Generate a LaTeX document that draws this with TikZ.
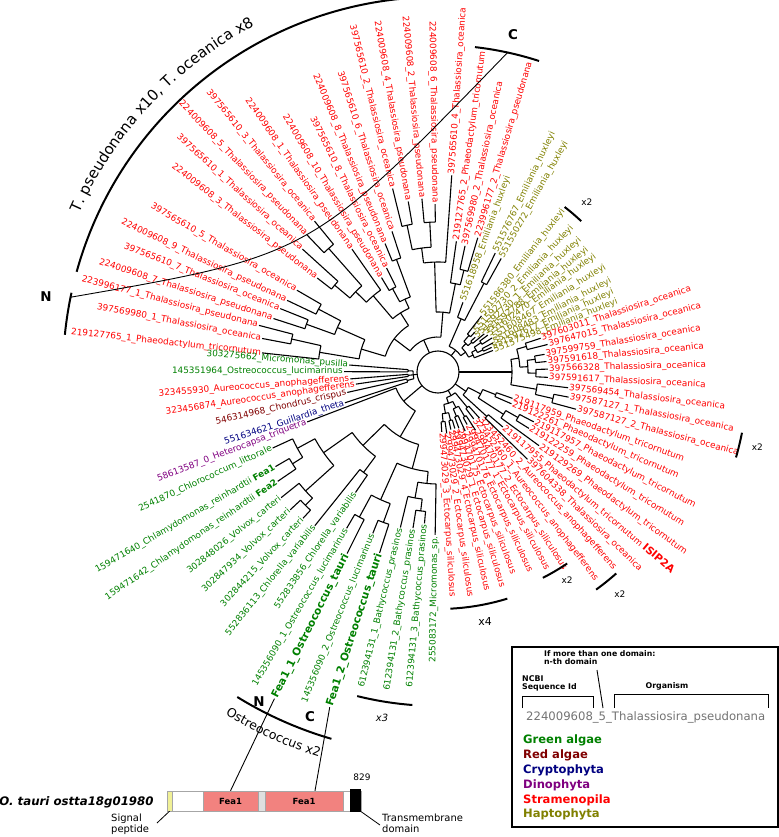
\documentclass[tikz,border=0pt]{standalone}
\usepackage{fontspec}
\setmainfont{DejaVu Sans}
\usetikzlibrary{decorations.text}
\newcommand{\lblfont}{\fontsize{8.9}{10}\selectfont}
\newcommand{\brarc}[3]{\draw[branch] (#2:#1) arc[start angle=#2,end angle=#3,radius=#1];}
\newcommand{\brstem}[3]{\draw[branch] (#1:#2) -- (#1:#3);}

\begin{document}
\begin{tikzpicture}[x=1bp,y=1bp,
    branch/.style={line width=1.1pt},
    brace/.style={line width=2pt},
    lblR/.style={anchor=west,inner sep=1pt,font=\lblfont},
    lblL/.style={anchor=east,inner sep=1pt,font=\lblfont}]
    \definecolor{grn}{RGB}{0,128,0}
    \definecolor{redalg}{RGB}{128,0,0}
    \definecolor{crypt}{RGB}{0,0,128}
    \definecolor{dino}{RGB}{128,0,128}
    \definecolor{stram}{RGB}{255,0,0}
    \definecolor{hapt}{RGB}{128,128,0}
    \definecolor{feabox}{RGB}{242,130,127}
    \definecolor{sigpep}{RGB}{240,240,150}
    \useasboundingbox (-438,-465) rectangle (341,372);
    \coordinate (root) at (0,0);
    \draw[branch] (root) circle[radius=21];

    % leaves: Thalassiosira block (top left)
    \node[lblL,stram,rotate=-6.2] (a1) at (173.8:177) {219127765\_1\_Phaeodactylum\_tricornutum};
    \node[lblL,stram,rotate=-10.8] (a2) at (169.2:179) {397569980\_1\_Thalassiosira\_oceanica};
    \node[lblL,stram,rotate=-14.6] (a3) at (165.4:185) {223996177\_1\_Thalassiosira\_pseudonana};
    \node[lblL,stram,rotate=-18] (a4) at (162:173) {224009608\_7\_Thalassiosira\_pseudonana};
    \node[lblL,stram,rotate=-21.9] (a5) at (158.1:170) {397565610\_7\_Thalassiosira\_oceanica};
    \node[lblL,stram,rotate=-25.4] (a6) at (154.6:167) {224009608\_9\_Thalassiosira\_pseudonana};
    \node[lblL,stram,rotate=-30.1] (a7) at (149.9:163) {397565610\_5\_Thalassiosira\_oceanica};
    \node[lblL,stram,rotate=-37.9] (a8) at (142.1:153) {224009608\_3\_Thalassiosira\_pseudonana};
    \node[lblL,stram,rotate=-42.2] (a9) at (137.8:183) {397565610\_1\_Thalassiosira\_oceanica};
    \node[lblL,stram,rotate=-46.3] (a10) at (133.7:190) {224009608\_5\_Thalassiosira\_pseudonana};
    \node[lblL,stram,rotate=-50.7] (a11) at (129.3:195) {397565610\_3\_Thalassiosira\_oceanica};
    \node[lblL,stram,rotate=-55] (a12) at (125:150) {224009608\_1\_Thalassiosira\_pseudonana};
    \node[lblL,stram,rotate=-59.1] (a13) at (120.9:110) {224009608\_10\_Thalassiosira\_pseudonana};
    \node[lblL,stram,rotate=-63.7] (a14) at (116.3:116) {397565610\_8\_Thalassiosira\_oceanica};
    \node[lblL,stram,rotate=-67.6] (a15) at (112.4:139) {224009608\_8\_Thalassiosira\_pseudonana};
    \node[lblL,stram,rotate=-71.9] (a16) at (108.1:148) {397565610\_6\_Thalassiosira\_oceanica};
    \node[lblL,stram,rotate=-76.1] (a17) at (103.9:189) {397565610\_2\_Thalassiosira\_oceanica};
    \node[lblL,stram,rotate=-80.1] (a18) at (99.9:173) {224009608\_4\_Thalassiosira\_pseudonana};
    \node[lblL,stram,rotate=-84.7] (a19) at (95.3:174) {224009608\_2\_Thalassiosira\_pseudonana};
    \node[lblL,stram,rotate=-89] (a20) at (91:168) {224009608\_6\_Thalassiosira\_pseudonana};
    \node[lblR,stram,rotate=86] (a21) at (86:197) {397565610\_4\_Thalassiosira\_oceanica};
    \node[lblR,stram,rotate=82] (a22) at (82:132) {219127765\_2\_Phaeodactylum\_tricornutum};
    \node[lblR,stram,rotate=77.9] (a23) at (77.9:129) {397569980\_2\_Thalassiosira\_oceanica};
    \node[lblR,stram,rotate=73.5] (a24) at (73.5:140) {223996177\_2\_Thalassiosira\_pseudonana};

    % leaves: Emiliania
    \node[lblR,hapt,rotate=70.3] (e1) at (70.3:74) {551618958\_Emiliania\_huxleyi};
    \node[lblR,hapt,rotate=64.3] (e2) at (64.3:132) {551576767\_Emiliania\_huxleyi};
    \node[lblR,hapt,rotate=60.9] (e3) at (60.9:130) {551550272\_Emiliania\_huxleyi};
    \node[lblR,hapt,rotate=52.2] (e4) at (52.2:71) {551586380\_Emiliania\_huxleyi};
    \node[lblR,hapt,rotate=47.3] (e5) at (47.3:54) {551592730\_2\_Emiliania\_huxleyi};
    \node[lblR,hapt,rotate=43.1] (e6) at (43.1:51) {551592730\_1\_Emiliania\_huxleyi};
    \node[lblR,hapt,rotate=39.5] (e7) at (39.5:60) {551592788\_Emiliania\_huxleyi};
    \node[lblR,hapt,rotate=36.5] (e8) at (36.5:62) {551602470\_Emiliania\_huxleyi};
    \node[lblR,hapt,rotate=32.2] (e9) at (32.2:64) {551608467\_Emiliania\_huxleyi};
    \node[lblR,hapt,rotate=27.9] (e10) at (27.9:62) {551608483\_Emiliania\_huxleyi};
    \node[lblR,hapt,rotate=24.6] (e11) at (24.6:59) {551592617\_Emiliania\_huxleyi};
    \node[lblR,hapt,rotate=21.4] (e12) at (21.4:59) {551575498\_Emiliania\_huxleyi};

    % leaves: T. oceanica (right)
    \node[lblR,stram,rotate=18.2] (d1) at (18.2:108) {397603011\_Thalassiosira\_oceanica};
    \node[lblR,stram,rotate=14.1] (d2) at (14.1:113) {397647015\_Thalassiosira\_oceanica};
    \node[lblR,stram,rotate=9.4] (d3) at (9.4:108) {397599759\_Thalassiosira\_oceanica};
    \node[lblR,stram,rotate=5.5] (d4) at (5.5:109) {397591618\_Thalassiosira\_oceanica};
    \node[lblR,stram,rotate=1.5] (d5) at (1.5:110) {397566328\_Thalassiosira\_oceanica};
    \node[lblR,stram,rotate=-2.8] (d6) at (-2.8:110) {397591617\_Thalassiosira\_oceanica};
    \node[lblR,stram,rotate=-6.9] (d7) at (-6.9:131) {397569454\_Thalassiosira\_oceanica};
    \node[lblR,stram,rotate=-10.9] (d8) at (-10.9:133) {397587127\_1\_Thalassiosira\_oceanica};
    \node[lblR,stram,rotate=-15.1] (d9) at (-15.1:143) {397587127\_2\_Thalassiosira\_oceanica};

    % leaves: Phaeodactylum, Aureococcus, Ectocarpus
    \node[lblR,stram,rotate=-19.5] (p1) at (-19.5:79) {219117959\_Phaeodactylum\_tricornutum};
    \node[lblR,stram,rotate=-23.4] (p2) at (-23.4:80) {219122261\_Phaeodactylum\_tricornutum};
    \node[lblR,stram,rotate=-27.5] (p3) at (-27.5:108) {219117957\_Phaeodactylum\_tricornutum};
    \node[lblR,stram,rotate=-31.8] (p4) at (-31.8:107) {219122259\_Phaeodactylum\_tricornutum};
    \node[lblR,stram,rotate=-36.1] (p5) at (-36.1:125) {219129269\_Phaeodactylum\_tricornutum};
    \node[lblR,stram,rotate=-40.3] (p6) at (-40.3:85) {219117955\_Phaeodactylum\_tricornutum {\fontsize{10.5}{11}\bfseries ISIP2A}};
    \node[lblR,stram,rotate=-44.3] (t1) at (-44.3:125) {397604338\_Thalassiosira\_oceanica};
    \node[lblR,stram,rotate=-48] (au1) at (-48:62) {323452460\_2\_Aureococcus\_anophagefferens};
    \node[lblR,stram,rotate=-52.7] (au2) at (-52.7:59) {323452460\_1\_Aureococcus\_anophagefferens};
    \node[lblR,stram,rotate=-57.2] (ec1) at (-57.2:69) {299470177\_2\_Ectocarpus\_siliculosus};
    \node[lblR,stram,rotate=-61] (ec2) at (-61:60) {299470177\_1\_Ectocarpus\_siliculosus};
    \node[lblR,stram,rotate=-65.3] (ec3) at (-65.3:65) {299470176\_Ectocarpus\_siliculosus};
    \node[lblR,stram,rotate=-69.6] (ec4) at (-69.6:60) {299470175\_Ectocarpus\_siliculosus};
    \node[lblR,stram,rotate=-73.4] (ec5) at (-73.4:59) {299473029\_1\_Ectocarpus\_siliculosus};
    \node[lblR,stram,rotate=-77.4] (ec6) at (-77.4:59) {299473029\_4\_Ectocarpus\_siliculosus};
    \node[lblR,stram,rotate=-81.9] (ec7) at (-81.9:62) {299473029\_2\_Ectocarpus\_siliculosus};
    \node[lblR,stram,rotate=-86.4] (ec8) at (-86.4:60) {299473029\_3\_Ectocarpus\_siliculosus};

    % leaves: green algae and others (left, bottom)
    \node[lblL,grn,rotate=-4.5] (g1) at (175.5:89) {303275662\_Micromonas\_pusilla};
    \node[lblL,grn,rotate=-0.2] (g2) at (179.8:94) {145351964\_Ostreococcus\_lucimarinus};
    \node[lblL,stram,rotate=4.5] (g3) at (184.5:88) {323455930\_Aureococcus\_anophagefferens};
    \node[lblL,stram,rotate=8.4] (g4) at (188.4:83) {323456874\_Aureococcus\_anophagefferens};
    \node[lblL,redalg,rotate=12.7] (g5) at (192.7:93) {546314968\_Chondrus\_crispus};
    \node[lblL,crypt,rotate=18.3] (g6) at (198.3:98) {551634621\_Guillardia\_theta};
    \node[lblL,dino,rotate=20.9] (g7) at (200.9:140) {58613587\_0\_Heterocapsa\_triquetra};
    \node[lblL,grn,rotate=24.7] (g8) at (204.7:182) {2541870\_Chlorococcum\_littorale};
    \node[lblL,grn,rotate=30.2] (g9) at (210.2:188) {159471640\_Chlamydomonas\_reinhardtii \textbf{Fea1}};
    \node[lblL,grn,rotate=34.3] (g10) at (214.3:194) {159471642\_Chlamydomonas\_reinhardtii \textbf{Fea2}};
    \node[lblL,grn,rotate=38.7] (g11) at (218.7:201) {302848026\_Volvox\_carteri};
    \node[lblL,grn,rotate=43] (g12) at (223:202) {302847934\_Volvox\_carteri};
    \node[lblL,grn,rotate=47.3] (g13) at (227.3:199) {302844215\_Volvox\_carteri};
    \node[lblL,grn,rotate=51.3] (g14) at (231.3:197) {552836113\_Chlorella\_variabilis};
    \node[lblL,grn,rotate=55.6] (g15) at (235.6:146) {552833856\_Chlorella\_variabilis};
    \node[lblL,grn,rotate=59.7] (g16) at (239.7:181) {145356090\_1\_Ostreococcus\_lucimarinus};
    \node[lblL,grn,rotate=63.4,font=\bfseries\fontsize{10.6}{12}\selectfont] (g17) at (243.4:203) {Fea1\_1\_Ostreococcus\_tauri};
    \node[lblL,grn,rotate=68] (g18) at (248:174) {145356090\_2\_Ostreococcus\_lucimarinus};
    \node[lblL,grn,rotate=72.1,font=\bfseries\fontsize{10.6}{12}\selectfont] (g19) at (252.1:190) {Fea1\_2\_Ostreococcus\_tauri};
    \node[lblL,grn,rotate=76.4] (g20) at (256.4:160) {612394131\_1\_Bathycoccus\_prasinos};
    \node[lblL,grn,rotate=80.9] (g21) at (260.9:158) {612394131\_2\_Bathycoccus\_prasinos};
    \node[lblL,grn,rotate=84.9] (g22) at (264.9:152) {612394131\_3\_Bathycoccus\_prasinos};
    \node[lblL,grn,rotate=89] (g23) at (269:163) {255083172\_Micromonas\_sp.};

    % tree: Thalassiosira block
    \brarc{150}{165.4}{169.2}
    \brarc{120}{167.3}{173.8} \brstem{167.3}{120}{150}
    \brarc{140}{158.1}{162}
    \brarc{135}{149.9}{154.6}
    \brarc{110}{152.25}{160.05} \brstem{160.05}{110}{140} \brstem{152.25}{110}{135}
    \brarc{80}{156.15}{170.55} \brstem{156.15}{80}{110} \brstem{170.55}{80}{120}
    \brarc{135}{137.8}{142.1}
    \brarc{165}{129.3}{133.7}
    \brarc{115}{131.5}{139.95} \brstem{139.95}{115}{135} \brstem{131.5}{115}{165}
    \brarc{100}{125}{135.73} \brstem{135.73}{100}{115}
    \brarc{95}{116.3}{120.9}
    \brarc{120}{108.1}{112.4}
    \brarc{80}{110.25}{118.6} \brstem{118.6}{80}{95} \brstem{110.25}{80}{120}
    \brarc{70}{114.43}{130.36} \brstem{130.36}{70}{100} \brstem{114.43}{70}{80}
    \brarc{55}{122.39}{163.35} \brstem{163.35}{55}{80} \brstem{122.39}{55}{70}
    \brarc{150}{99.9}{103.9}
    \brarc{150}{91}{95.3}
    \brarc{125}{93.15}{101.9} \brstem{101.9}{125}{150} \brstem{93.15}{125}{150}
    \brarc{110}{86}{97.53} \brstem{97.53}{110}{125}
    \brarc{105}{73.5}{77.9}
    \brarc{90}{75.7}{82} \brstem{75.7}{90}{105}
    \brarc{60}{78.85}{91.76} \brstem{91.76}{60}{110} \brstem{78.85}{60}{90}
    \brarc{35}{85.31}{142.87} \brstem{142.87}{35}{55} \brstem{85.31}{35}{60}
    \brstem{114.09}{21}{35}
    \draw[branch] (173.8:120) -- (a1.east);
    \draw[branch] (169.2:150) -- (a2.east);
    \draw[branch] (165.4:150) -- (a3.east);
    \draw[branch] (162:140) -- (a4.east);
    \draw[branch] (158.1:140) -- (a5.east);
    \draw[branch] (154.6:135) -- (a6.east);
    \draw[branch] (149.9:135) -- (a7.east);
    \draw[branch] (142.1:135) -- (a8.east);
    \draw[branch] (137.8:135) -- (a9.east);
    \draw[branch] (133.7:165) -- (a10.east);
    \draw[branch] (129.3:165) -- (a11.east);
    \draw[branch] (125:100) -- (a12.east);
    \draw[branch] (120.9:95) -- (a13.east);
    \draw[branch] (116.3:95) -- (a14.east);
    \draw[branch] (112.4:120) -- (a15.east);
    \draw[branch] (108.1:120) -- (a16.east);
    \draw[branch] (103.9:150) -- (a17.east);
    \draw[branch] (99.9:150) -- (a18.east);
    \draw[branch] (95.3:150) -- (a19.east);
    \draw[branch] (91:150) -- (a20.east);
    \draw[branch] (86:110) -- (a21.west);
    \draw[branch] (82:90) -- (a22.west);
    \draw[branch] (77.9:105) -- (a23.west);
    \draw[branch] (73.5:105) -- (a24.west);

    % tree: Emiliania
    \brarc{100}{60.9}{64.3}
    \brarc{58}{62.6}{70.3} \brstem{62.6}{58}{100}
    \brarc{48}{47.3}{52.2}
    \brarc{45}{39.5}{43.1}
    \brarc{40}{41.3}{49.75} \brstem{49.75}{40}{48} \brstem{41.3}{40}{45}
    \brarc{52}{32.2}{36.5}
    \brarc{50}{24.6}{27.9}
    \brarc{44}{26.25}{34.35} \brstem{34.35}{44}{52} \brstem{26.25}{44}{50}
    \brarc{39}{21.4}{30.3} \brstem{30.3}{39}{44}
    \brarc{34}{25.85}{45.53} \brstem{45.53}{34}{40} \brstem{25.85}{34}{39}
    \brarc{28}{35.69}{66.45} \brstem{66.45}{28}{58} \brstem{35.69}{28}{34}
    \brstem{51.07}{21}{28}
    \draw[branch] (70.3:58) -- (e1.west);
    \draw[branch] (64.3:100) -- (e2.west);
    \draw[branch] (60.9:100) -- (e3.west);
    \draw[branch] (52.2:48) -- (e4.west);
    \draw[branch] (47.3:48) -- (e5.west);
    \draw[branch] (43.1:45) -- (e6.west);
    \draw[branch] (39.5:45) -- (e7.west);
    \draw[branch] (36.5:52) -- (e8.west);
    \draw[branch] (32.2:52) -- (e9.west);
    \draw[branch] (27.9:50) -- (e10.west);
    \draw[branch] (24.6:50) -- (e11.west);
    \draw[branch] (21.4:39) -- (e12.west);

    % tree: T. oceanica (right)
    \brarc{92}{14.1}{18.2}
    \brarc{98}{5.5}{9.4}
    \brarc{98}{-2.8}{1.5}
    \brarc{90}{-0.65}{7.45} \brstem{7.45}{90}{98} \brstem{-0.65}{90}{98}
    \brarc{82}{3.4}{16.15} \brstem{16.15}{82}{92} \brstem{3.4}{82}{90}
    \brarc{118}{-15.1}{-10.9}
    \brarc{100}{-13}{-6.9} \brstem{-13}{100}{118}
    \brarc{74}{-9.95}{9.78} \brstem{9.78}{74}{82} \brstem{-9.95}{74}{100}
    \brstem{0}{21}{74}
    \draw[branch] (18.2:92) -- (d1.west);
    \draw[branch] (14.1:92) -- (d2.west);
    \draw[branch] (9.4:98) -- (d3.west);
    \draw[branch] (5.5:98) -- (d4.west);
    \draw[branch] (1.5:98) -- (d5.west);
    \draw[branch] (-2.8:98) -- (d6.west);
    \draw[branch] (-6.9:100) -- (d7.west);
    \draw[branch] (-10.9:118) -- (d8.west);
    \draw[branch] (-15.1:118) -- (d9.west);

    % tree: Phaeodactylum, Aureococcus, Ectocarpus
    \brarc{62}{-23.4}{-19.5}
    \brarc{92}{-31.8}{-27.5}
    \brarc{78}{-36.1}{-29.65} \brstem{-29.65}{78}{92}
    \brarc{48}{-32.88}{-21.45} \brstem{-21.45}{48}{62} \brstem{-32.88}{48}{78}
    \brarc{66}{-44.3}{-40.3}
    \brarc{34}{-42.3}{-27.16} \brstem{-27.16}{34}{48} \brstem{-42.3}{34}{66}
    \brstem{-34.73}{21}{34}
    \brarc{46}{-52.7}{-48}
    \brarc{52}{-61}{-57.2}
    \brarc{48}{-69.6}{-65.3}
    \brarc{40}{-67.45}{-59.1} \brstem{-59.1}{40}{52} \brstem{-67.45}{40}{48}
    \brarc{50}{-77.4}{-73.4}
    \brarc{50}{-86.4}{-81.9}
    \brarc{42}{-84.15}{-75.4} \brstem{-75.4}{42}{50} \brstem{-84.15}{42}{50}
    \brarc{33}{-79.78}{-63.28} \brstem{-63.28}{33}{40} \brstem{-79.78}{33}{42}
    \brarc{27}{-71.53}{-50.35} \brstem{-50.35}{27}{46} \brstem{-71.53}{27}{33}
    \brstem{-60.94}{21}{27}
    \draw[branch] (-19.5:62) -- (p1.west);
    \draw[branch] (-23.4:62) -- (p2.west);
    \draw[branch] (-27.5:92) -- (p3.west);
    \draw[branch] (-31.8:92) -- (p4.west);
    \draw[branch] (-36.1:78) -- (p5.west);
    \draw[branch] (-40.3:66) -- (p6.west);
    \draw[branch] (-44.3:66) -- (t1.west);
    \draw[branch] (-48:46) -- (au1.west);
    \draw[branch] (-52.7:46) -- (au2.west);
    \draw[branch] (-57.2:52) -- (ec1.west);
    \draw[branch] (-61:52) -- (ec2.west);
    \draw[branch] (-65.3:48) -- (ec3.west);
    \draw[branch] (-69.6:48) -- (ec4.west);
    \draw[branch] (-73.4:50) -- (ec5.west);
    \draw[branch] (-77.4:50) -- (ec6.west);
    \draw[branch] (-81.9:50) -- (ec7.west);
    \draw[branch] (-86.4:50) -- (ec8.west);

    % tree: green algae and others
    \brarc{30}{175.5}{179.8}
    \brarc{30}{184.5}{188.4}
    \brarc{32}{192.7}{198.3}
    \brarc{25}{177.65}{195.5} \brstem{177.65}{25}{30} \brstem{186.45}{25}{30} \brstem{195.5}{25}{32}
    \brstem{186.45}{21}{25}
    \brarc{172}{210.2}{214.3}
    \brarc{160}{204.7}{212.25} \brstem{212.25}{160}{172}
    \brarc{188}{223}{227.3}
    \brarc{178}{218.7}{225.15} \brstem{225.15}{178}{188}
    \brarc{140}{208.48}{221.93} \brstem{208.48}{140}{160} \brstem{221.93}{140}{178}
    \brarc{125}{231.3}{235.6}
    \brarc{105}{215.2}{233.45} \brstem{215.2}{105}{140} \brstem{233.45}{105}{125}
    \brarc{165}{239.7}{243.4}
    \brarc{160}{248}{252.1}
    \brarc{140}{241.55}{250.05} \brstem{241.55}{140}{165} \brstem{250.05}{140}{160}
    \brarc{140}{260.9}{264.9}
    \brarc{128}{256.4}{262.9} \brstem{262.9}{128}{140}
    \brarc{112}{259.65}{269} \brstem{259.65}{112}{128}
    \brarc{100}{245.8}{264.33} \brstem{245.8}{100}{140} \brstem{264.33}{100}{112}
    \brarc{75}{224.33}{255.06} \brstem{224.33}{75}{105} \brstem{255.06}{75}{100}
    \brarc{45}{200.9}{239.7} \brstem{239.7}{45}{75}
    \brstem{220.3}{21}{45}
    \draw[branch] (175.5:30) -- (g1.east);
    \draw[branch] (179.8:30) -- (g2.east);
    \draw[branch] (184.5:30) -- (g3.east);
    \draw[branch] (188.4:30) -- (g4.east);
    \draw[branch] (192.7:32) -- (g5.east);
    \draw[branch] (198.3:32) -- (g6.east);
    \draw[branch] (200.9:45) -- (g7.east);
    \draw[branch] (204.7:160) -- (g8.east);
    \draw[branch] (210.2:172) -- (g9.east);
    \draw[branch] (214.3:172) -- (g10.east);
    \draw[branch] (218.7:178) -- (g11.east);
    \draw[branch] (223:188) -- (g12.east);
    \draw[branch] (227.3:188) -- (g13.east);
    \draw[branch] (231.3:125) -- (g14.east);
    \draw[branch] (235.6:125) -- (g15.east);
    \draw[branch] (239.7:165) -- (g16.east);
    \draw[branch] (243.4:165) -- (g17.east);
    \draw[branch] (248:160) -- (g18.east);
    \draw[branch] (252.1:160) -- (g19.east);
    \draw[branch] (256.4:128) -- (g20.east);
    \draw[branch] (260.9:140) -- (g21.east);
    \draw[branch] (264.9:140) -- (g22.east);
    \draw[branch] (269:112) -- (g23.east);

    % clade brackets
    \draw[brace] (164.5:375) arc[start angle=164.5,end angle=86,radius=375];
    \draw[brace] (174.3:375) arc[start angle=174.3,end angle=167.8,radius=375];
    \draw[brace] (83.5:327) arc[start angle=83.5,end angle=72,radius=327];
    \coordinate (nT) at (168.5:375);
    \coordinate (cT) at (77.7:327);
    \draw[line width=0.9pt] (nT) .. controls (-127,116.5) .. (cT);
    \node[font=\bfseries\fontsize{13.5}{14}\selectfont] (nTl) at (-392,75) {N};
    \node[font=\bfseries\fontsize{13.5}{14}\selectfont] (cTl) at (75,337) {C};
    \path[decorate,decoration={text along path,text align=center,
        text={|\fontsize{15}{15}\selectfont|T. pseudonana x10, T. oceanica x8}}]
        (160:392) arc[start angle=160,end angle=114,radius=392];

    \draw[brace] (238.3:382) arc[start angle=238.3,end angle=253.8,radius=382];
    \path[decorate,decoration={text along path,text align=center,
        text={|\fontsize{12.5}{12.5}\selectfont|Ostreococcus x2}}]
        (235:403) arc[start angle=235,end angle=256,radius=403];
    \node[font=\bfseries\fontsize{13.5}{14}\selectfont] (nOl) at (-179,-330) {N};
    \node[font=\bfseries\fontsize{13.5}{14}\selectfont] (cOl) at (-128,-345) {C};

    \draw[brace] (256:334) arc[start angle=256,end angle=265.6,radius=334];
    \node[font=\itshape\fontsize{10}{11}\selectfont] (x3) at (260.8:350) {x3};
    \draw[brace] (-87:237) arc[start angle=-87,end angle=-73,radius=237];
    \node[font=\fontsize{11}{12}\selectfont] (x4) at (-79.3:254) {x4};
    \draw[brace] (-63:231) arc[start angle=-63,end angle=-56,radius=231];
    \node[font=\fontsize{9}{10}\selectfont] (x2ec) at (-58.2:245) {x2};
    \draw[brace] (-54:269) arc[start angle=-54,end angle=-48.5,radius=269];
    \node[font=\fontsize{9}{10}\selectfont] (x2au) at (-50.7:287) {x2};
    \draw[brace] (-16:310) arc[start angle=-16,end angle=-11.3,radius=310];
    \node[font=\fontsize{9}{10}\selectfont] (x2th) at (-13.2:328) {x2};
    \draw[brace] (46.5:208) arc[start angle=46.5,end angle=52.5,radius=208];
    \node[font=\fontsize{9}{10}\selectfont] (x2em) at (48.8:226) {x2};

    % domain architecture
    \node[draw=gray!70,line width=0.8pt,minimum width=194bp,minimum height=20bp,inner sep=0] (bar) at (-174,-429) {};
    \node[fill=sigpep,draw=gray!70,minimum width=5bp,minimum height=20bp,inner sep=0] (sig) at (-268.5,-429) {};
    \node[fill=feabox,draw=gray!70,minimum width=55bp,minimum height=20bp,inner sep=0,font=\bfseries\fontsize{8.5}{9}\selectfont] (box1) at (-207.5,-429) {Fea1};
    \node[fill=gray!25,draw=gray!70,minimum width=7bp,minimum height=20bp,inner sep=0] (gap) at (-176.5,-429) {};
    \node[fill=feabox,draw=gray!70,minimum width=78bp,minimum height=20bp,inner sep=0,font=\bfseries\fontsize{8.5}{9}\selectfont] (box2) at (-134,-429) {Fea1};
    \node[fill=black,minimum width=11bp,minimum height=23bp,inner sep=0] (tm) at (-82.5,-428) {};
    \node[font=\fontsize{9}{10}\selectfont] (len) at (-76,-405) {829};
    \node[anchor=east,font=\bfseries\itshape\fontsize{11.8}{13}\selectfont] (gene) at (-281,-430) {O. tauri ostta18g01980};
    \node[anchor=north west,align=left,inner sep=0,font=\fontsize{10}{11}\selectfont] (sp) at (-327,-442) {Signal\\peptide};
    \node[anchor=north west,align=left,inner sep=0,font=\fontsize{10}{11}\selectfont] (tmtxt) at (-56,-442) {Transmembrane\\domain};
    \draw[line width=0.8pt] (-281,-451) -- (sig.south);
    \draw[line width=0.8pt] (tm.south east) -- (-58,-453);
    \draw[line width=0.9pt] (g17.west) -- (box1.north);
    \draw[line width=0.9pt] (g19.west) -- ([xshift=11bp]box2.north);

    % legend
    \node[draw,line width=1.2pt,minimum width=266bp,minimum height=180bp,inner sep=0] (leg) at (207,-365) {};
    \node[anchor=north west,align=left,inner sep=0,font=\bfseries\fontsize{7.8}{8.4}\selectfont] (multi) at (106,-278) {If more than one domain:\\n-th domain};
    \node[anchor=north west,align=left,inner sep=0,font=\bfseries\fontsize{7.9}{8.6}\selectfont] (ncbi) at (84,-303) {NCBI\\Sequence Id};
    \node[font=\bfseries\fontsize{7.9}{8.6}\selectfont] (org) at (229,-314) {Organism};
    \coordinate (nth) at (159,-298);
    \draw[line width=0.9pt] (nth) -- (165,-336);
    \draw[line width=1pt] (84,-336) |- (155,-324) -- (155,-336);
    \draw[line width=1pt] (176,-336) |- (330,-322) -- (330,-336);
    \node[anchor=west,inner sep=0,text=black!55,font=\fontsize{11.7}{13}\selectfont] (sample) at (88,-345) {224009608\_5\_Thalassiosira\_pseudonana};
    \node[anchor=west,inner sep=0,grn,font=\bfseries\fontsize{11.6}{13}\selectfont] (kgrn) at (85,-368) {Green algae};
    \node[anchor=west,inner sep=0,redalg,font=\bfseries\fontsize{11.6}{13}\selectfont] (kred) at (85,-383) {Red algae};
    \node[anchor=west,inner sep=0,crypt,font=\bfseries\fontsize{11.6}{13}\selectfont] (kcry) at (85,-398) {Cryptophyta};
    \node[anchor=west,inner sep=0,dino,font=\bfseries\fontsize{11.6}{13}\selectfont] (kdin) at (85,-413) {Dinophyta};
    \node[anchor=west,inner sep=0,stram,font=\bfseries\fontsize{11.6}{13}\selectfont] (kstr) at (85,-428) {Stramenopila};
    \node[anchor=west,inner sep=0,hapt,font=\bfseries\fontsize{11.6}{13}\selectfont] (khap) at (85,-442) {Haptophyta};
\end{tikzpicture}
\end{document}
